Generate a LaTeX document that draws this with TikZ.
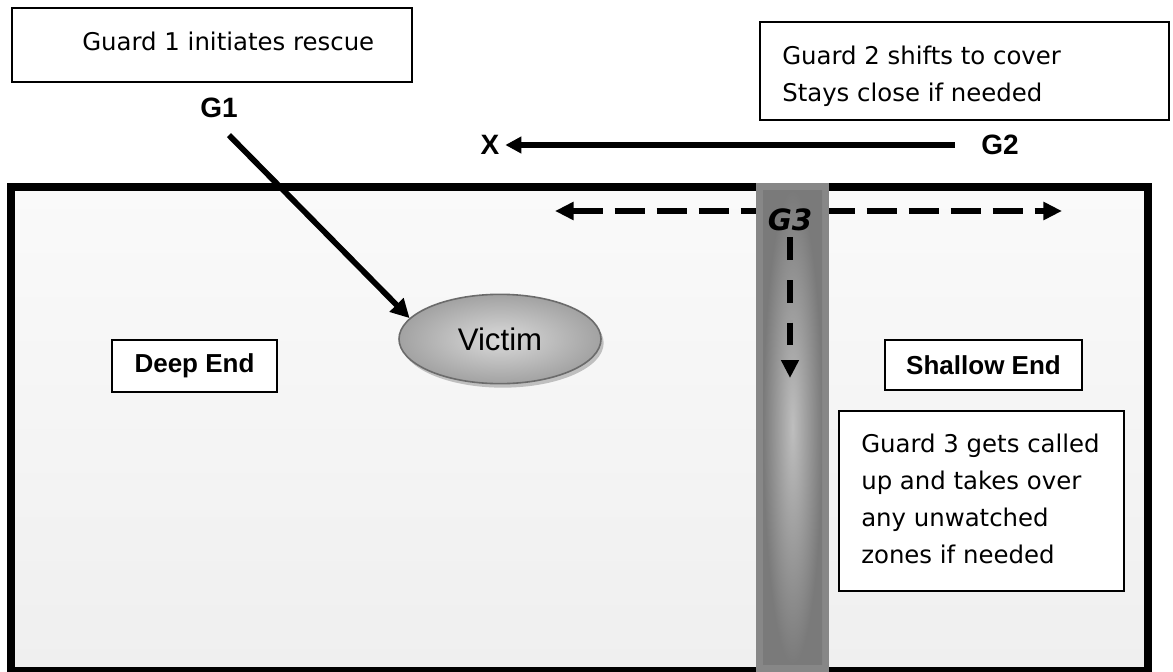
\documentclass[tikz,border=0pt]{standalone}
\usepackage{fontspec}
\usetikzlibrary{arrows.meta,shapes.geometric,shadows}
\newfontfamily\handfont{DejaVu Sans}
\newfontfamily\labelfont{Liberation Sans}
\definecolor{pooltop}{HTML}{FAFAFA}
\definecolor{poolbottom}{HTML}{EFEFEF}
\definecolor{stripedge}{HTML}{878787}
\definecolor{stripdark}{HTML}{7A7A7A}
\definecolor{striplight}{HTML}{BEBEBE}
\definecolor{victimline}{HTML}{6B6B6B}
\definecolor{victimlight}{HTML}{DADADA}
\definecolor{victimdark}{HTML}{A2A2A2}
\begin{document}
\begin{tikzpicture}[x=0.75pt,y=-0.75pt,
  notebox/.style={draw=black,line width=1.1pt,fill=white},
  notetext/.style={font=\handfont\fontsize{18.3}{27.75}\selectfont,align=left,inner sep=0pt},
  guardlabel/.style={font=\labelfont\bfseries\fontsize{21}{25}\selectfont,inner sep=0pt},
  endbox/.style={draw=black,line width=1.3pt,fill=white,inner sep=0pt,
    font=\labelfont\bfseries\fontsize{19.5}{23}\selectfont},
  heavy/.style={line width=4.3pt},
  sweep/.style={line width=4.3pt,dash pattern=on 22.5pt off 9pt},
  drop/.style={line width=4.3pt,dash pattern=on 17pt off 15pt},
  tip/.style={-{Triangle[length=#1,width=#1]}},
]
\useasboundingbox (0,0) rectangle (1173,671);
\clip (0,0) rectangle (1173,671);

% pool water
\shade[top color=pooltop,bottom color=poolbottom] (10.5,187) rectangle (1147.5,671);

% guard 3 sweep, drawn under the lane strip
\coordinate (sweepL) at (555,211);
\coordinate (sweepR) at (1062,211);
\draw[sweep,{Triangle[length=14pt,width=13pt]}-{Triangle[length=14pt,width=13pt]}] (sweepL) -- (sweepR);

% pool wall
\draw[line width=6pt] (10.5,187) rectangle (1147.5,671);

% lane strip: a lighter glow in the middle, darker towards the ends and edges
\fill[stripedge] (756,183) rectangle (829,680);
\shade[inner color=striplight,outer color=stripdark] (763,190) rectangle (822,664);

% notes
\draw[notebox] (12,8) rectangle (412,82);
\node[notetext,anchor=base west] (note1) at (82,50) {Guard 1 initiates rescue};
\draw[notebox] (760,22) rectangle (1169,120);
\node[notetext,anchor=north west] (note2) at (782,45.5) {Guard 2 shifts to cover\\Stays close if needed};
\draw[notebox] (839,411) rectangle (1124,591);
\node[notetext,anchor=north west] (note3) at (861,433.5) {Guard 3 gets called\\up and takes over\\any unwatched\\zones if needed};

% zone labels
\node[endbox,minimum width=123.75pt,minimum height=39pt] (deep) at (194.5,366) {Deep End};
\node[endbox,minimum width=147.75pt,minimum height=37.5pt] (shallow) at (983.5,365) {Shallow End};

% victim
\node[ellipse,draw=victimline,line width=1.2pt,inner color=victimlight,outer color=victimdark,
  minimum width=151.5pt,minimum height=67pt,inner sep=0pt,
  drop shadow={shadow xshift=2pt,shadow yshift=-3pt,fill=black,opacity=0.22},
  font=\labelfont\fontsize{23.4}{28}\selectfont] (victim) at (500,339) {Victim};

% guards
\node[guardlabel] (G1) at (219,108) {G1};
\node[guardlabel] (G2) at (1000,145) {G2};
\node[guardlabel] (X) at (490,145) {X};
\node[font=\handfont\bfseries\itshape\fontsize{22}{26}\selectfont,inner sep=0pt] (G3) at (790,220) {G3};
\coordinate (G3stop) at (790,378);

% movements
\draw[heavy,tip=14pt] ([xshift=7.5pt,yshift=-12.75pt]G1.south) -- (victim.167);
\draw[heavy,tip=12pt] ([xshift=-19.9pt]G2.west) -- ([xshift=4.3pt]X.east);
\draw[drop,-{Triangle[length=13.5pt,width=12.75pt]}] ([yshift=-4.5pt]G3.south) -- (G3stop);
\end{tikzpicture}
\end{document}
